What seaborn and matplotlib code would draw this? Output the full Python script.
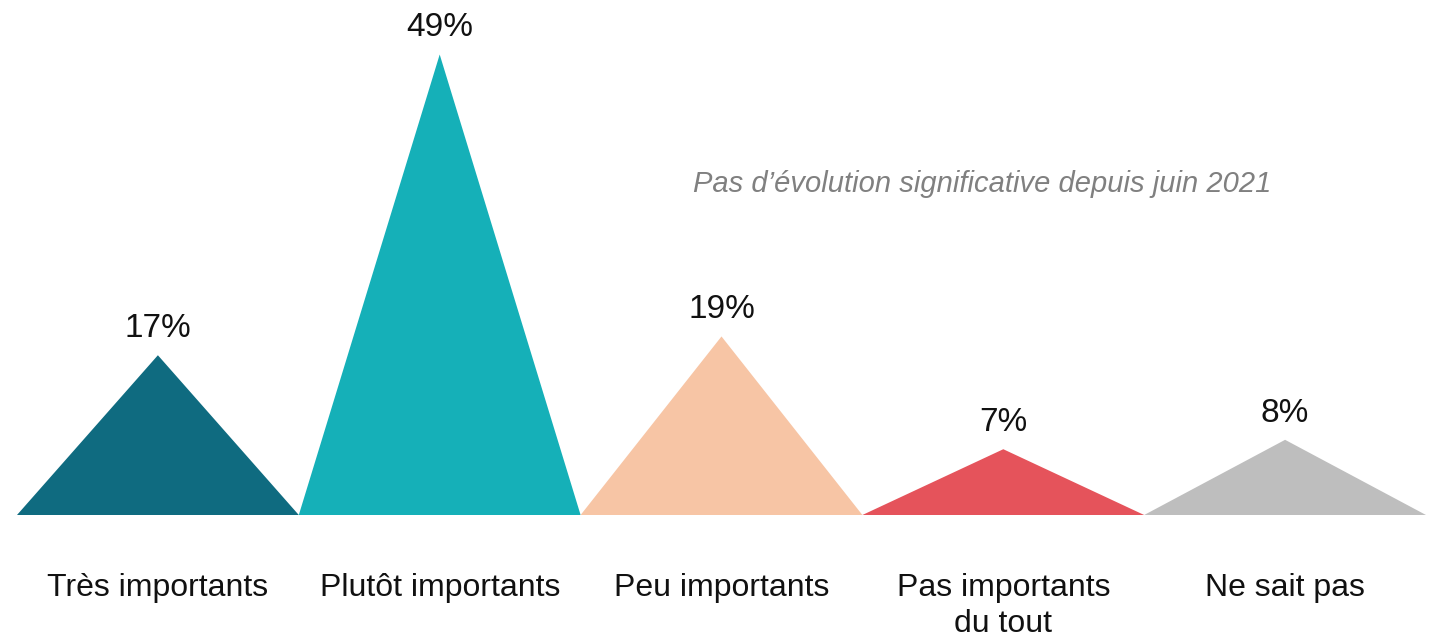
import pandas as pd
import matplotlib.pyplot as plt
import seaborn as sns
from matplotlib.patches import Polygon

# =========================
# DATA
# =========================
categories = ["Très importants", "Plutôt importants", "Peu importants",
              "Pas importants\ndu tout", "Ne sait pas"]
values = [17, 49, 19, 7, 8]
colors = ["#0F6B80", "#15B0B8", "#F7C5A5", "#E5535B", "#BEBEBE"]
note = "Pas d’évolution significative depuis juin 2021"

df = pd.DataFrame({"categorie": categories, "valeur": values})

# =========================
# PLOT
# =========================
sns.set_style("white")
plt.rcParams['font.family'] = ['Liberation Sans', 'DejaVu Sans']

fig = plt.figure(figsize=(14.3, 6.37), dpi=100)
ax = fig.add_axes([17 / 1430, 122 / 637, 1409 / 1430, 515 / 637])

sns.barplot(data=df, x="categorie", y="valeur", hue="categorie",
            palette=colors, width=1.0, legend=False, ax=ax)

# turn each bar into a triangle (peak chart)
for bar, col in zip(list(ax.patches), colors):
    x0 = bar.get_x()
    w = bar.get_width()
    h = bar.get_height()
    tri = Polygon([[x0, 0], [x0 + w / 2, h], [x0 + w, 0]], closed=True,
                  facecolor=col, edgecolor="none")
    ax.add_patch(tri)
    bar.set_visible(False)
    ax.annotate(f"{h:.0f}%", xy=(x0 + w / 2, h), xytext=(0, 13),
                textcoords="offset points", ha="center", va="baseline",
                fontsize=24, color="#111111", annotation_clip=False)

ax.set_xlim(-0.5, 4.5)
ax.set_ylim(0, 54.8)
ax.set_xlabel("")
ax.set_ylabel("")
ax.set_yticks([])
ax.tick_params(axis="x", length=0, pad=42, labelsize=23, labelcolor="#111111")
for lbl in ax.get_xticklabels():
    lbl.set_linespacing(1.25)
sns.despine(ax=ax, left=True, bottom=True)

ax.text(0.48, 0.627, note, transform=ax.transAxes, fontsize=21,
        style="italic", color="#808080", ha="left", va="baseline")

plt.savefig("out.png", dpi=100)
